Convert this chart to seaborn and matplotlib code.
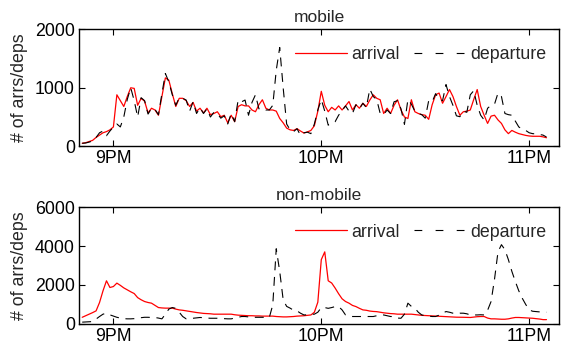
import pandas as pd
import numpy as np
import matplotlib
matplotlib.use("Agg")
import matplotlib.pyplot as plt
import matplotlib.dates as mdates
import seaborn as sns

# one sample per minute, 20:51 -> 23:05
times = pd.date_range("2012-01-01 20:51", periods=135, freq="min")

mobile_arr = [50, 60, 80, 100, 150, 190, 230, 250, 280, 330,
              880, 780, 680, 850, 1000, 990, 700, 820, 770, 570,
              650, 620, 530, 850, 1170, 1130, 900, 680, 820, 820,
              780, 680, 750, 600, 650, 570, 650, 540, 560, 590,
              505, 530, 400, 530, 420, 680, 710, 690, 690, 620,
              590, 710, 795, 650, 620, 620, 600, 475, 400, 310,
              280, 270, 300, 260, 225, 245, 270, 350, 600, 940,
              700, 590, 665, 620, 690, 620, 690, 765, 620, 710,
              650, 735, 680, 790, 880, 820, 795, 560, 650, 560,
              700, 795, 620, 500, 475, 795, 590, 560, 540, 530,
              460, 710, 880, 910, 735, 850, 970, 850, 680, 530,
              590, 600, 620, 800, 970, 680, 530, 390, 515, 530,
              450, 390, 280, 215, 270, 240, 215, 200, 185, 175,
              170, 170, 170, 160, 145]

mobile_dep = [50, 55, 70, 90, 150, 230, 260, 180, 260, 330,
              380, 330, 500, 800, 1000, 780, 500, 830, 780, 550,
              650, 630, 540, 900, 1245, 1100, 880, 700, 830, 820,
              790, 600, 760, 560, 660, 560, 640, 500, 580, 560,
              480, 520, 380, 560, 420, 790, 760, 790, 530, 750,
              880, 640, 650, 620, 620, 700, 1300, 1690, 1000, 380,
              280, 250, 300, 185, 230, 240, 215, 380, 620, 800,
              600, 360, 400, 420, 530, 610, 690, 600, 560, 710,
              640, 735, 660, 980, 850, 800, 560, 540, 620, 560,
              760, 780, 640, 375, 800, 720, 600, 560, 540, 480,
              780, 760, 900, 800, 780, 1055, 850, 700, 520, 505,
              600, 580, 880, 950, 700, 530, 450, 650, 700, 720,
              910, 850, 560, 540, 530, 430, 330, 290, 270, 230,
              215, 210, 200, 190, 157]

nonmobile_arr = [340, 420, 500, 580, 670, 1100, 1700, 2215, 1870, 1920,
                 2095, 1980, 1850, 1750, 1650, 1560, 1350, 1240, 1150, 1100,
                 1065, 950, 840, 820, 810, 810, 810, 760, 720, 700,
                 670, 640, 610, 585, 560, 540, 530, 520, 500, 500,
                 500, 500, 500, 500, 470, 450, 440, 430, 420, 420,
                 410, 410, 400, 400, 400, 400, 380, 370, 360, 360,
                 370, 380, 400, 410, 420, 440, 460, 600, 1115, 3300,
                 3700, 2215, 2100, 1840, 1550, 1290, 1150, 1065, 950, 890,
                 800, 720, 700, 660, 640, 630, 600, 570, 550, 530,
                 520, 500, 500, 500, 500, 500, 480, 460, 440, 430,
                 420, 410, 400, 390, 380, 370, 360, 350, 345, 345,
                 340, 335, 330, 350, 370, 380, 380, 300, 260, 260,
                 250, 240, 240, 260, 300, 330, 330, 320, 310, 300,
                 290, 270, 250, 220, 220]

nonmobile_dep = [90, 100, 110, 120, 250, 380, 500, 550, 465, 400,
                 340, 300, 270, 260, 260, 270, 300, 320, 340, 340,
                 330, 330, 300, 260, 500, 760, 840, 800, 600, 380,
                 260, 270, 290, 310, 330, 320, 300, 290, 290, 290,
                 280, 270, 260, 260, 300, 340, 380, 380, 360, 340,
                 340, 340, 340, 330, 330, 980, 3860, 2700, 1240, 900,
                 810, 700, 670, 550, 460, 470, 490, 500, 600, 840,
                 840, 800, 840, 890, 890, 720, 460, 420, 380, 380,
                 380, 380, 380, 380, 380, 420, 460, 460, 420, 380,
                 380, 300, 290, 500, 1065, 900, 810, 600, 460, 420,
                 400, 380, 380, 450, 550, 635, 600, 550, 520, 550,
                 550, 520, 460, 460, 460, 470, 460, 700, 1150, 2300,
                 3700, 4070, 3810, 3300, 2700, 2180, 1700, 1320, 1000, 720,
                 650, 635, 620, 600, 600]

panels = ["mobile", "non-mobile"]
ymax = [2000, 6000]
yticks = [[0, 1000, 2000], [0, 2000, 4000, 6000]]

sns.set_style("ticks")
plt.rcParams['font.family'] = ['Liberation Sans', 'DejaVu Sans']
fs = 12.8

fig = plt.figure(figsize=(5.61, 3.54), dpi=100)
ax1 = fig.add_axes([0.141, 0.587, 0.856, 0.330])
ax2 = fig.add_axes([0.141, 0.085, 0.856, 0.330])

series = [(mobile_arr, mobile_dep), (nonmobile_arr, nonmobile_dep)]

for ax, name, (arr, dep), top, yt in zip([ax1, ax2], panels, series, ymax, yticks):
    df = pd.DataFrame({"time": times, "arrival": arr, "departure": dep})
    sns.lineplot(data=df, x="time", y="arrival", ax=ax, color="red", lw=0.9, label="arrival")
    sns.lineplot(data=df, x="time", y="departure", ax=ax, color="black", lw=0.8,
                 dashes=False, label="departure")
    ax.lines[1].set_dashes((8, 6))
    ax.set_xlim(pd.Timestamp("2012-01-01 20:50:06"), pd.Timestamp("2012-01-01 23:08:42"))
    ax.set_ylim(0, top)
    ax.set_yticks(yt)
    ax.xaxis.set_major_locator(mdates.HourLocator())
    ax.xaxis.set_major_formatter(mdates.DateFormatter("%-I%p"))
    ax.set_xlabel("")
    ax.set_ylabel("# of arrs/deps", fontsize=fs, labelpad=5)
    ax.set_title(name, fontsize=fs - 0.3, pad=5)
    ax.tick_params(direction="in", length=4, width=0.8, top=True, right=True,
                   labelsize=fs, pad=3, colors="black")
    for s in ax.spines.values():
        s.set_visible(True)
        s.set_linewidth(1.0)
        s.set_color("black")
    leg = ax.legend(ncol=2, frameon=False, loc="upper right", bbox_to_anchor=(0.995, 0.95),
                    handlelength=2.9, columnspacing=0.8, handletextpad=0.25, fontsize=fs,
                    borderaxespad=0.2)
    leg.get_lines()[1].set_dashes((7, 12))

fig.align_ylabels([ax1, ax2])
fig.savefig("out.png", dpi=100)
